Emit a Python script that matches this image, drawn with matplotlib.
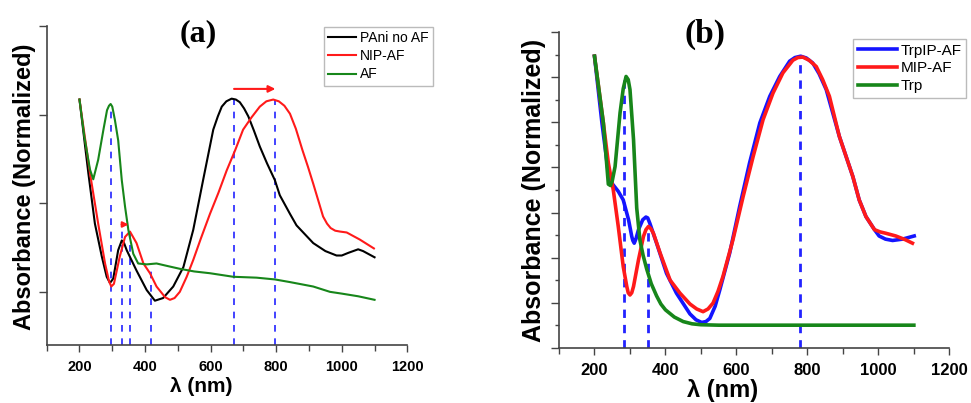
import matplotlib
matplotlib.use("Agg")
import matplotlib.pyplot as plt
from matplotlib.ticker import MultipleLocator

plt.rcParams["font.family"] = ["Liberation Sans", "DejaVu Sans"]

# ---- panel (a) data ----
pani_x = [200, 227, 247, 268, 283, 293, 303, 318, 329, 336, 344, 374, 405, 430, 455, 486,
          517, 547, 577, 608, 622, 634, 648, 664, 677, 689, 702, 715, 732, 750, 772, 796,
          811, 842, 862, 913, 950, 984, 1000, 1020, 1050, 1065, 1080, 1100]
pani_y = [2.17, 1.34, 0.77, 0.40, 0.17, 0.10, 0.15, 0.47, 0.58, 0.55, 0.47, 0.24, 0.02, -0.10,
          -0.07, 0.06, 0.28, 0.70, 1.26, 1.83, 1.98, 2.09, 2.15, 2.18, 2.17, 2.14, 2.07, 1.98,
          1.82, 1.64, 1.45, 1.26, 1.09, 0.88, 0.75, 0.55, 0.46, 0.41, 0.41, 0.44, 0.48, 0.46,
          0.43, 0.39]

nip_x = [200, 232, 257, 278, 290, 297, 305, 323, 339, 354, 374, 395, 415, 435, 461, 476, 490,
         506, 527, 547, 570, 598, 624, 649, 675, 699, 725, 750, 770, 791, 808, 825, 842, 860,
         880, 897, 913, 943, 955, 966, 980, 995, 1015, 1055, 1098]
nip_y = [2.17, 1.34, 0.77, 0.32, 0.12, 0.06, 0.09, 0.40, 0.62, 0.68, 0.55, 0.32, 0.21, 0.06,
         -0.06, -0.09, -0.07, 0.0, 0.17, 0.36, 0.60, 0.88, 1.12, 1.37, 1.60, 1.83, 1.97, 2.09,
         2.15, 2.17, 2.15, 2.10, 2.01, 1.84, 1.60, 1.41, 1.22, 0.85, 0.77, 0.72, 0.69, 0.68,
         0.67, 0.59, 0.49]

af_x = [200, 215, 232, 242, 257, 273, 284, 290, 295, 300, 308, 318, 329, 339, 349, 364, 379,
        405, 435, 470, 506, 550, 598, 669, 740, 796, 842, 913, 964, 1000, 1050, 1100]
af_y = [2.17, 1.75, 1.38, 1.27, 1.49, 1.83, 2.05, 2.10, 2.12, 2.09, 1.94, 1.71, 1.26, 0.96,
        0.70, 0.43, 0.32, 0.31, 0.32, 0.29, 0.26, 0.23, 0.21, 0.17, 0.16, 0.14, 0.11, 0.06,
        0.0, -0.02, -0.05, -0.09]

# dashed markers (wavelength, top of line)
a_marks_x = [296, 330, 353, 417, 671, 797]
a_marks_top = [2.12, 0.75, 0.70, 0.23, 2.17, 2.17]

# ---- panel (b) data ----
trpip_x = [200, 221, 239, 249, 267, 281, 296, 305, 308, 312, 317, 324, 336, 345, 350, 356,
           375, 403, 431, 469, 486, 502, 514, 525, 540, 553, 581, 609, 637, 666, 694, 722,
           750, 765, 781, 797, 815, 833, 853, 890, 928, 946, 965, 989, 1002, 1020, 1040,
           1068, 1101]
trpip_y = [6.47, 4.99, 3.88, 3.65, 3.47, 3.28, 2.84, 2.47, 2.38, 2.32, 2.42, 2.62, 2.84, 2.90,
           2.88, 2.76, 2.32, 1.65, 1.21, 0.75, 0.62, 0.56, 0.58, 0.65, 0.92, 1.28, 2.10, 3.13,
           4.10, 4.99, 5.58, 6.02, 6.36, 6.44, 6.47, 6.43, 6.32, 6.08, 5.73, 4.69, 3.80, 3.28,
           2.91, 2.62, 2.48, 2.41, 2.38, 2.41, 2.48]

mip_x = [200, 225, 239, 253, 267, 281, 291, 295, 300, 305, 310, 324, 338, 345, 352, 359, 366,
         385, 413, 441, 469, 488, 506, 520, 534, 548, 562, 590, 619, 647, 675, 703, 731, 759,
         773, 787, 805, 825, 843, 862, 890, 928, 946, 965, 989, 1005, 1021, 1049, 1075, 1096]
mip_y = [6.47, 4.99, 4.10, 3.50, 2.69, 1.80, 1.36, 1.22, 1.17, 1.22, 1.36, 1.95, 2.47, 2.62,
         2.69, 2.64, 2.54, 2.10, 1.50, 1.21, 0.97, 0.86, 0.80, 0.86, 0.99, 1.25, 1.58, 2.39,
         3.36, 4.24, 5.06, 5.65, 6.10, 6.38, 6.44, 6.45, 6.38, 6.24, 5.95, 5.58, 4.69, 3.80,
         3.28, 2.91, 2.62, 2.57, 2.54, 2.48, 2.40, 2.32]

trp_x = [200, 225, 239, 245, 250, 258, 272, 281, 289, 295, 300, 310, 319, 328, 337, 347, 360,
         375, 387, 400, 425, 450, 475, 500, 550, 1100]
trp_y = [6.47, 4.99, 3.63, 3.60, 3.70, 4.02, 5.21, 5.75, 6.02, 5.95, 5.73, 4.62, 3.10, 2.39,
         2.05, 1.75, 1.42, 1.15, 0.97, 0.84, 0.68, 0.58, 0.53, 0.51, 0.50, 0.50]

b_marks_x = [284, 350, 780]
b_marks_top = [5.95, 2.69, 6.47]

DASH_BLUE = "#2323ff"
GREEN = "#17861a"


def style_axes(ax, fs, ymajor, yminor=None):
    for s in ("top", "right"):
        ax.spines[s].set_visible(False)
    for s in ("left", "bottom"):
        ax.spines[s].set_color("#444444")
        ax.spines[s].set_linewidth(1.2)
    ax.set_xlim(100, 1200)
    ax.xaxis.set_major_locator(MultipleLocator(200))
    ax.xaxis.set_minor_locator(MultipleLocator(100))
    ax.yaxis.set_major_locator(MultipleLocator(ymajor))
    if yminor:
        ax.yaxis.set_minor_locator(MultipleLocator(yminor))
    ax.set_yticklabels([])
    ax.tick_params(axis="both", which="both", direction="out", color="#444444", width=1)
    ax.tick_params(axis="x", which="major", length=5, labelsize=fs, pad=6)
    ax.tick_params(axis="x", which="minor", length=4)
    ax.tick_params(axis="y", which="major", length=6)
    ax.tick_params(axis="y", which="minor", length=3)
    for lab in ax.get_xticklabels():
        lab.set_fontweight("bold")


fig = plt.figure(figsize=(9.71, 4.03), dpi=100)

# ---------- (a) ----------
axa = fig.add_axes([0.0481, 0.1439, 0.3714, 0.7916])
axa.set_ylim(-0.6, 3.0)
axa.vlines(a_marks_x, -0.6, a_marks_top, colors=DASH_BLUE, linestyles=(0, (4, 4)), lw=1.2)
axa.plot(pani_x, pani_y, color="black", lw=1.5, label="PAni no AF")
axa.plot(nip_x, nip_y, color="#ff1a1a", lw=1.5, label="NIP-AF")
axa.plot(af_x, af_y, color=GREEN, lw=1.5, label="AF")
axa.annotate("", xy=(806, 2.29), xytext=(663, 2.29),
             arrowprops=dict(arrowstyle="-|>", color="#ff1a1a", lw=1.5, mutation_scale=10))
axa.annotate("", xy=(358, 0.76), xytext=(320, 0.76),
             arrowprops=dict(arrowstyle="-|>", color="#ff1a1a", lw=1.5, mutation_scale=8))
style_axes(axa, 10.5, 1)
axa.set_xlabel("λ (nm)", fontsize=15, fontweight="bold")
axa.xaxis.set_label_coords(0.428, -0.10)
leg = axa.legend(loc="upper left", bbox_to_anchor=(0.769, 0.997), borderaxespad=0,
                 fontsize=10, frameon=True, fancybox=False, handlelength=2.0,
                 labelspacing=0.3, handletextpad=0.3, borderpad=0.3)
leg.get_frame().set_edgecolor("#aaaaaa")
leg.get_frame().set_linewidth(1.0)
fig.text(0.0257, 0.536, "Absorbance (Normalized)", rotation=90, ha="center", va="center",
         fontsize=17, fontweight="bold")
fig.text(198 / 971, 1 - 34 / 403, "(a)", ha="center", va="center", fontsize=23,
         fontweight="bold", family=["Liberation Serif", "DejaVu Serif"])

# ---------- (b) ----------
axb = fig.add_axes([0.5757, 0.1372, 0.4020, 0.7826])
axb.set_ylim(0, 7)
axb.vlines(b_marks_x, 0, b_marks_top, colors=DASH_BLUE, linestyles=(0, (3, 2.5)), lw=2)
axb.plot(trpip_x, trpip_y, color="#1414ff", lw=2.6, label="TrpIP-AF")
axb.plot(mip_x, mip_y, color="#ff1a1a", lw=2.6, label="MIP-AF")
axb.plot(trp_x, trp_y, color=GREEN, lw=2.6, label="Trp")
style_axes(axb, 12, 1, 0.5)
axb.set_xlabel("λ (nm)", fontsize=17, fontweight="bold")
axb.xaxis.set_label_coords(0.418, -0.10)
leg = axb.legend(loc="upper left", bbox_to_anchor=(0.753, 0.979), borderaxespad=0,
                 fontsize=11, frameon=True, fancybox=False, handlelength=2.6,
                 labelspacing=0.25, handletextpad=0.2, borderpad=0.3)
leg.get_frame().set_edgecolor("#aaaaaa")
leg.get_frame().set_linewidth(1.0)
fig.text(534 / 971, 1 - 190 / 403, "Absorbance (Normalized)", rotation=90, ha="center",
         va="center", fontsize=18, fontweight="bold")
fig.text(705 / 971, 1 - 34 / 403, "(b)", ha="center", va="center", fontsize=24,
         fontweight="bold", family=["Liberation Serif", "DejaVu Serif"])

fig.savefig("out.png", dpi=100)
